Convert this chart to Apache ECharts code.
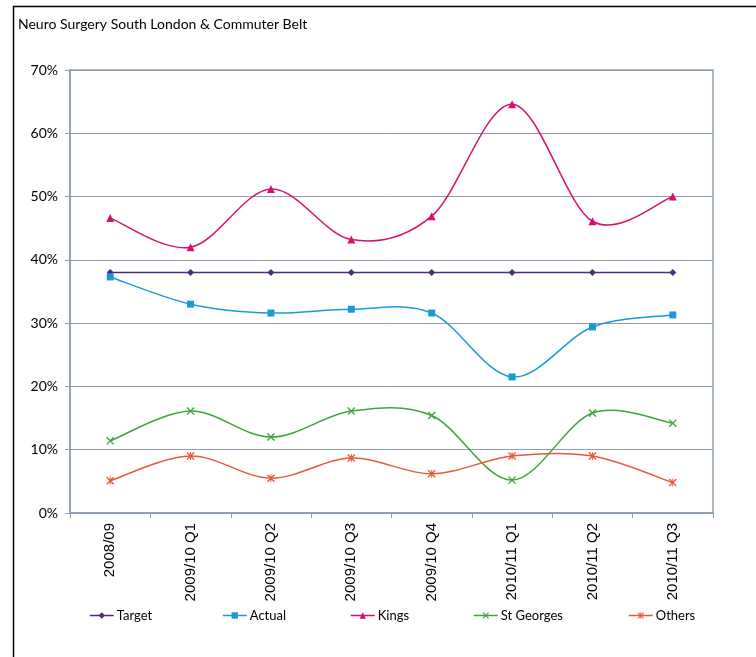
<!DOCTYPE html>
<html>
<head>
<meta charset="utf-8">
<script src="https://cdn.jsdelivr.net/npm/echarts@6/dist/echarts.min.js"></script>
<style>
  html, body { margin: 0; padding: 0; background: #fff; }
  #chart { width: 756px; height: 657px; }
</style>
</head>
<body>
<div id="chart"></div>
<script>
// Quarterly share of neuro surgery activity (percent)
const categories = ['2008/09', '2009/10 Q1', '2009/10 Q2', '2009/10 Q3', '2009/10 Q4', '2010/11 Q1', '2010/11 Q2', '2010/11 Q3'];
const target     = [38, 38, 38, 38, 38, 38, 38, 38];
const actual     = [37.3, 33.0, 31.6, 32.2, 31.6, 21.5, 29.4, 31.3];
const kings      = [46.6, 42.0, 51.2, 43.2, 46.9, 64.6, 46.1, 50.0];
const stGeorges  = [11.4, 16.1, 12.0, 16.1, 15.4, 5.2, 15.8, 14.2];
const others     = [5.1, 9.0, 5.5, 8.7, 6.2, 9.0, 9.0, 4.8];
const yTicks     = [0, 10, 20, 30, 40, 50, 60, 70];

const COLORS = {
  target: '#4B2C7F',
  actual: '#1D9AD6',
  kings: '#D4136F',
  stg: '#3FA33F',
  others: '#E9573A'
};

// marker shapes: a thin cross and an asterisk
const CROSS = 'path://M0,1.2 L1.2,0 L10,8.8 L8.8,10 Z M8.8,0 L10,1.2 L1.2,10 L0,8.8 Z';
const STAR = 'path://M0,1.2 L1.2,0 L10,8.8 L8.8,10 Z M8.8,0 L10,1.2 L1.2,10 L0,8.8 Z M4.4,0 L5.6,0 L5.6,10 L4.4,10 Z';

const gridColor = '#8E9EB0';
const textFont = 'Lato, "Open Sans", sans-serif';
const LINE_W = 1.5;

// Markers (and the legend entry) for one series; the connecting curve is drawn separately
function markerSeries(name, data, color, symbol, size, showLine) {
  return {
    name: name,
    type: 'line',
    data: data,
    symbol: symbol,
    symbolSize: size,
    showAllSymbol: true,
    lineStyle: { color: color, width: LINE_W, opacity: showLine ? 1 : 0 },
    itemStyle: { color: color, borderWidth: 0 },
    emphasis: { disabled: true },
    z: 4
  };
}

// Cardinal-spline curve through the points (tension 1/6), one cubic segment per interval
function curveSeries(values, color) {
  return {
    type: 'custom',
    data: values.map((v, i) => [i, v]),
    encode: { x: 0, y: 1 },
    silent: true,
    z: 3,
    renderItem: function (params, api) {
      const i = params.dataIndex;
      const n = values.length;
      if (i >= n - 1) return null;
      const p = (k) => {
        const j = Math.max(0, Math.min(n - 1, k));
        return api.coord([j, values[j]]);
      };
      const p0 = p(i - 1), p1 = p(i), p2 = p(i + 1), p3 = p(i + 2);
      return {
        type: 'bezierCurve',
        shape: {
          x1: p1[0], y1: p1[1],
          x2: p2[0], y2: p2[1],
          cpx1: p1[0] + (p2[0] - p0[0]) / 6, cpy1: p1[1] + (p2[1] - p0[1]) / 6,
          cpx2: p2[0] - (p3[0] - p1[0]) / 6, cpy2: p2[1] - (p3[1] - p1[1]) / 6
        },
        style: { stroke: color, lineWidth: LINE_W, fill: null }
      };
    }
  };
}

function legendFor(name, left, color) {
  return {
    data: [name],
    left: left,
    top: 609,
    padding: 0,
    itemWidth: 24,
    itemHeight: 8,
    itemGap: 0,
    lineStyle: { color: color, width: LINE_W, opacity: 1 },
    textStyle: { fontFamily: textFont, fontSize: 13, color: '#000', padding: [0, 0, 0, -2] },
    selectedMode: false
  };
}

const chart = echarts.init(document.getElementById('chart'), null, { renderer: 'canvas' });

chart.setOption({
  animation: false,
  backgroundColor: '#fff',
  title: {
    text: 'Neuro Surgery South London & Commuter Belt',
    left: 13,
    top: 12,
    textStyle: { fontFamily: textFont, fontSize: 14, fontWeight: 'normal', color: '#000' }
  },
  graphic: [{
    type: 'rect',
    left: 11,
    top: 4,
    shape: { width: 800, height: 700 },
    style: { fill: 'none', stroke: '#000', lineWidth: 1.5 },
    silent: true,
    z: 0
  }],
  legend: [
    legendFor('Target', 89, COLORS.target),
    legendFor('Actual', 222, COLORS.actual),
    legendFor('Kings', 350, COLORS.kings),
    legendFor('St Georges', 473, COLORS.stg),
    legendFor('Others', 628, COLORS.others)
  ],
  grid: {
    left: 70,
    right: 43,
    top: 70,
    bottom: 144,
    show: true,
    borderColor: gridColor,
    borderWidth: 1.5,
    backgroundColor: 'transparent'
  },
  xAxis: {
    type: 'category',
    data: categories,
    boundaryGap: true,
    axisLine: { lineStyle: { color: gridColor, width: 1.5 } },
    axisTick: { show: true, length: 5, inside: false, lineStyle: { color: gridColor, width: 1 } },
    axisLabel: {
      rotate: 90,
      margin: 10,
      interval: 0,
      fontFamily: '"Liberation Sans", Arial, sans-serif',
      fontSize: 15,
      color: '#000'
    },
    splitLine: { show: false }
  },
  yAxis: {
    type: 'value',
    min: yTicks[0],
    max: yTicks[yTicks.length - 1],
    interval: 10,
    axisLine: { show: true, lineStyle: { color: gridColor, width: 1.5 } },
    axisTick: { show: true, length: 5, lineStyle: { color: gridColor, width: 1 } },
    axisLabel: {
      formatter: '{value}%',
      margin: 12,
      fontFamily: textFont,
      fontSize: 14,
      color: '#000'
    },
    splitLine: { show: true, lineStyle: { color: gridColor, width: 1 } }
  },
  series: [
    markerSeries('Target', target, COLORS.target, 'diamond', 7, true),
    curveSeries(actual, COLORS.actual),
    markerSeries('Actual', actual, COLORS.actual, 'rect', 7, false),
    curveSeries(kings, COLORS.kings),
    markerSeries('Kings', kings, COLORS.kings, 'triangle', 8, false),
    curveSeries(stGeorges, COLORS.stg),
    markerSeries('St Georges', stGeorges, COLORS.stg, CROSS, 8, false),
    curveSeries(others, COLORS.others),
    markerSeries('Others', others, COLORS.others, STAR, 8, false)
  ]
});
</script>
</body>
</html>
